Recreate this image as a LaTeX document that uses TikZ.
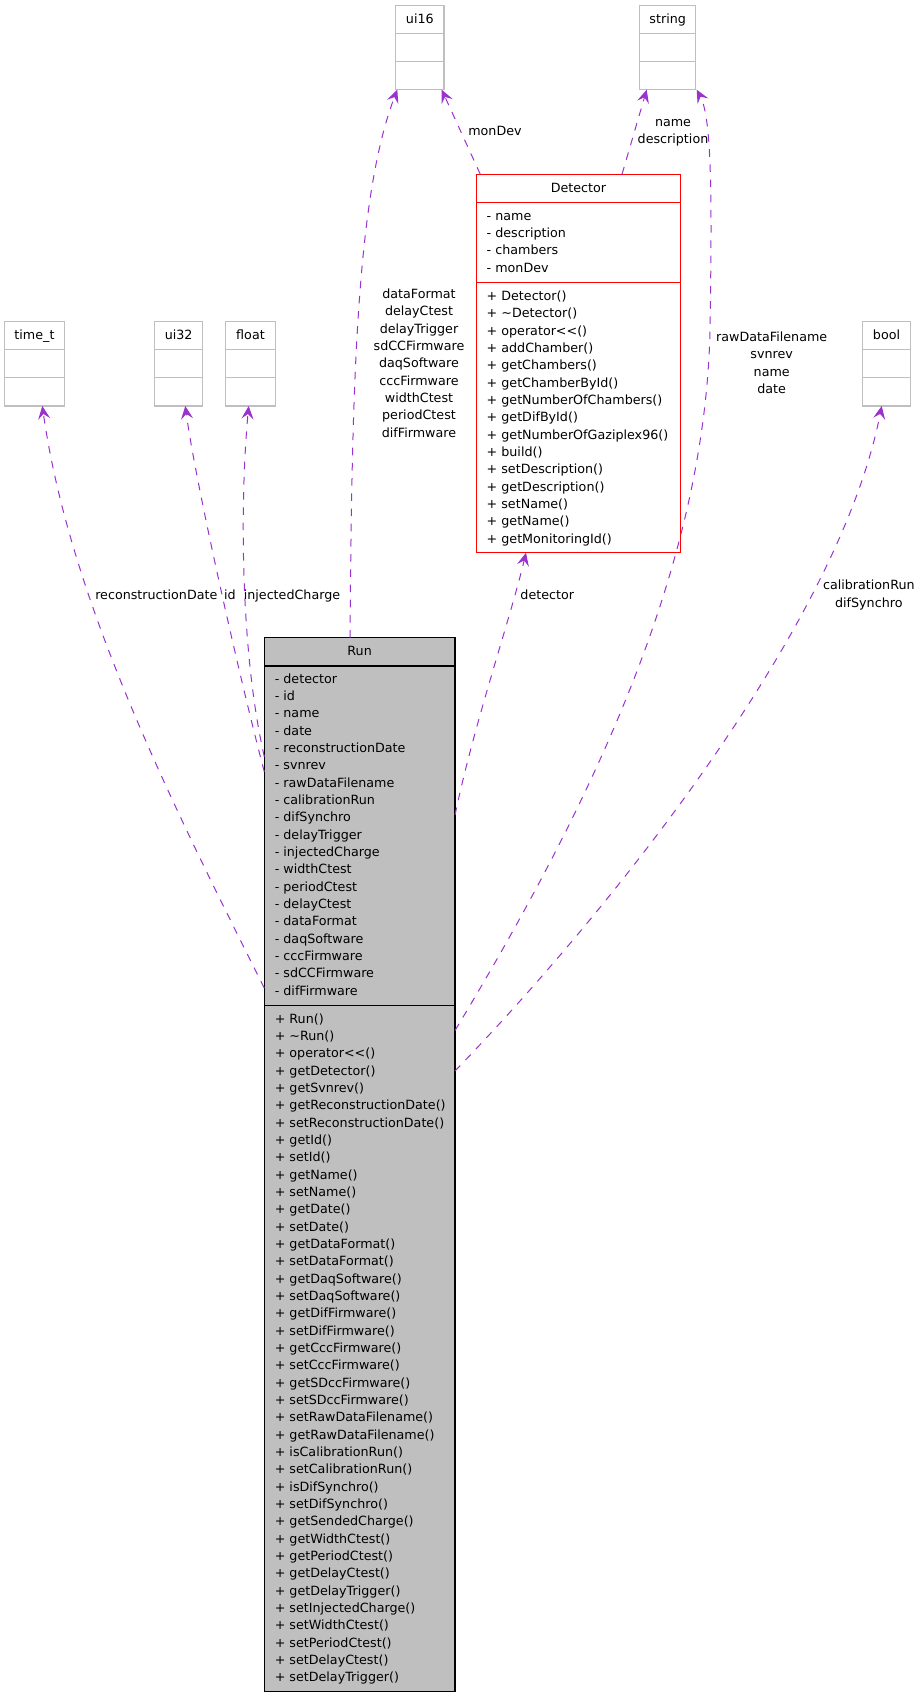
\documentclass[tikz,border=0pt]{standalone}
\usepackage{fontspec}
\setmainfont{DejaVu Sans}
\usetikzlibrary{arrows.meta,calc}
\definecolor{edgec}{HTML}{9A32CD}
\definecolor{grayb}{HTML}{BFBFBF}
\begin{document}
\begin{tikzpicture}[x=1pt,y=-1pt,
  every node/.style={font=\fontsize{12.7}{17.33}\selectfont, inner sep=0pt, outer sep=0pt},
  graybox/.style={draw=grayb, line width=1.3pt, fill=white, anchor=north west},
  graysep/.style={draw=grayb, line width=1.3pt},
  runbox/.style={draw=black, line width=1.3pt, fill=grayb, anchor=north west},
  runsep/.style={draw=black, line width=1.3pt},
  detbox/.style={draw=red, line width=1.1pt, fill=white, anchor=north west},
  detsep/.style={draw=red, line width=1.1pt},
  txt/.style={anchor=base west},
  ttl/.style={anchor=base},
  lbl/.style={anchor=base},
  mlbl/.style={anchor=center, align=center},
  uses/.style={draw=edgec, line width=1pt, dash pattern=on 7.6pt off 7.6pt,
    -{Stealth[length=13pt,width=12pt,inset=5pt]}}]
\useasboundingbox (0,0) rectangle (920,1699);

% ---------- small type boxes ----------
\node[graybox, minimum width=48.3pt, minimum height=84pt] (ui16) at (395.7,5.7) {};
\node[graybox, minimum width=56pt, minimum height=84pt] (string) at (639.7,5.7) {};
\node[graybox, minimum width=60.4pt, minimum height=84.3pt] (timet) at (4.3,321.7) {};
\node[graybox, minimum width=48pt, minimum height=84.3pt] (ui32) at (154.7,321.7) {};
\node[graybox, minimum width=49.6pt, minimum height=84.3pt] (float) at (225.7,321.7) {};
\node[graybox, minimum width=48.4pt, minimum height=84.3pt] (bool) at (862.3,321.7) {};
\foreach \b in {ui16,string,timet,ui32,float,bool}{
  \draw[graysep] ([yshift=-28pt]\b.north west) -- ([yshift=-28pt]\b.north east);
  \draw[graysep] ([yshift=-56pt]\b.north west) -- ([yshift=-56pt]\b.north east);
}
\node[ttl] (ui16t) at ([yshift=-17.4pt]ui16.north) {ui16};
\node[ttl] (stringt) at ([yshift=-17.4pt]string.north) {string};
\node[ttl] (timett) at ([yshift=-17.4pt]timet.north) {time\_t};
\node[ttl] (ui32t) at ([yshift=-17.4pt]ui32.north) {ui32};
\node[ttl] (floatt) at ([yshift=-17.4pt]float.north) {float};
\node[ttl] (boolt) at ([yshift=-17.4pt]bool.north) {bool};

% ---------- Detector ----------
\node[detbox, minimum width=204.4pt, minimum height=378.4pt] (det) at (476.3,174.3) {};
\draw[detsep] ([yshift=-28pt]det.north west) -- ([yshift=-28pt]det.north east);
\draw[detsep] ([yshift=-108.4pt]det.north west) -- ([yshift=-108.4pt]det.north east);
\node[ttl] (dett) at ([yshift=-18pt]det.north) {Detector};
\foreach \t [count=\i] in {name,description,chambers,monDev}
  \node[txt] (deta\i) at ($(det.north west)+(10.4,{45.9+(\i-1)*17.33})$) {- \t};
\foreach \t [count=\i] in {Detector(),\textasciitilde Detector(),operator<{}<(),addChamber(),getChambers(),getChamberById(),getNumberOfChambers(),getDifById(),getNumberOfGaziplex96(),build(),setDescription(),getDescription(),setName(),getName(),getMonitoringId()}
  \node[txt] (detm\i) at ($(det.north west)+(10.4,{126.2+(\i-1)*17.33})$) {+ \t};

% ---------- Run ----------
\node[runbox, minimum width=190.7pt, minimum height=1053.8pt] (run) at (264.3,637.7) {};
\draw[runsep] ([yshift=-28.3pt]run.north west) -- ([yshift=-28.3pt]run.north east);
\draw[runsep] ([yshift=-367.8pt]run.north west) -- ([yshift=-367.8pt]run.north east);
\node[ttl] (runt) at ([yshift=-17.6pt]run.north) {Run};
\foreach \t [count=\i] in {detector,id,name,date,reconstructionDate,svnrev,rawDataFilename,calibrationRun,difSynchro,delayTrigger,injectedCharge,widthCtest,periodCtest,delayCtest,dataFormat,daqSoftware,cccFirmware,sdCCFirmware,difFirmware}
  \node[txt] (runa\i) at ($(run.north west)+(10.5,{45.6+(\i-1)*17.33})$) {- \t};
\foreach \t [count=\i] in {Run(),\textasciitilde Run(),operator<{}<(),getDetector(),getSvnrev(),getReconstructionDate(),setReconstructionDate(),getId(),setId(),getName(),setName(),getDate(),setDate(),getDataFormat(),setDataFormat(),getDaqSoftware(),setDaqSoftware(),getDifFirmware(),setDifFirmware(),getCccFirmware(),setCccFirmware(),getSDccFirmware(),setSDccFirmware(),setRawDataFilename(),getRawDataFilename(),isCalibrationRun(),setCalibrationRun(),isDifSynchro(),setDifSynchro(),getSendedCharge(),getWidthCtest(),getPeriodCtest(),getDelayCtest(),getDelayTrigger(),setInjectedCharge(),setWidthCtest(),setPeriodCtest(),setDelayCtest(),setDelayTrigger()}
  \node[txt] (runm\i) at ($(run.north west)+(10.5,{385.6+(\i-1)*17.33})$) {+ \t};

% ---------- connectors ----------
\draw[uses] ([xshift=85.7pt]run.north west) .. controls (352,400) and (355,200) .. ([xshift=1.6pt]ui16.south west);
\draw[uses] ([xshift=4pt]det.north west) -- ([xshift=-2.3pt]ui16.south east);
\draw[uses] ([xshift=145.7pt]det.north west) -- ([xshift=7pt]string.south west);
\draw[uses] ([yshift=-392.8pt]run.north east) .. controls (600,790) and (705,560) .. (710,330) .. controls (712,200) and (712,118) .. ([xshift=1pt]string.south east);
\draw[uses] ([yshift=-433.3pt]run.north east) .. controls (620,900) and (840,620) .. ([xshift=19.4pt]bool.south west);
\draw[uses] ([yshift=-177.3pt]run.north east) .. controls (475,720) and (510,620) .. ([xshift=49.7pt]det.south west);
\draw[uses] ([yshift=-350.3pt]run.north west) .. controls (170,800) and (70,600) .. ([xshift=38pt]timet.south west);
\draw[uses] ([yshift=-134pt]run.north west) .. controls (240,680) and (195,480) .. ([xshift=30.6pt]ui32.south west);
\draw[uses] ([yshift=-119pt]run.north west) .. controls (240,650) and (240,500) .. ([xshift=23pt]float.south west);

% ---------- connector labels ----------
\node[mlbl] (l1) at (419,363.2) {dataFormat\\delayCtest\\delayTrigger\\sdCCFirmware\\daqSoftware\\cccFirmware\\widthCtest\\periodCtest\\difFirmware};
\node[lbl] (l2) at (495,135.5) {monDev};
\node[mlbl] (l3) at (673,132.5) {name\\description};
\node[mlbl] (l4) at (771.7,362.7) {rawDataFilename\\svnrev\\name\\date};
\node[mlbl] (l5) at (868.8,595) {calibrationRun\\difSynchro};
\node[lbl] (l6) at (547.3,599.1) {detector};
\node[lbl] (l7) at (156.3,599.1) {reconstructionDate};
\node[lbl] (l8) at (230,599.1) {id};
\node[lbl] (l9) at (292,599.1) {injectedCharge};
\end{tikzpicture}
\end{document}
